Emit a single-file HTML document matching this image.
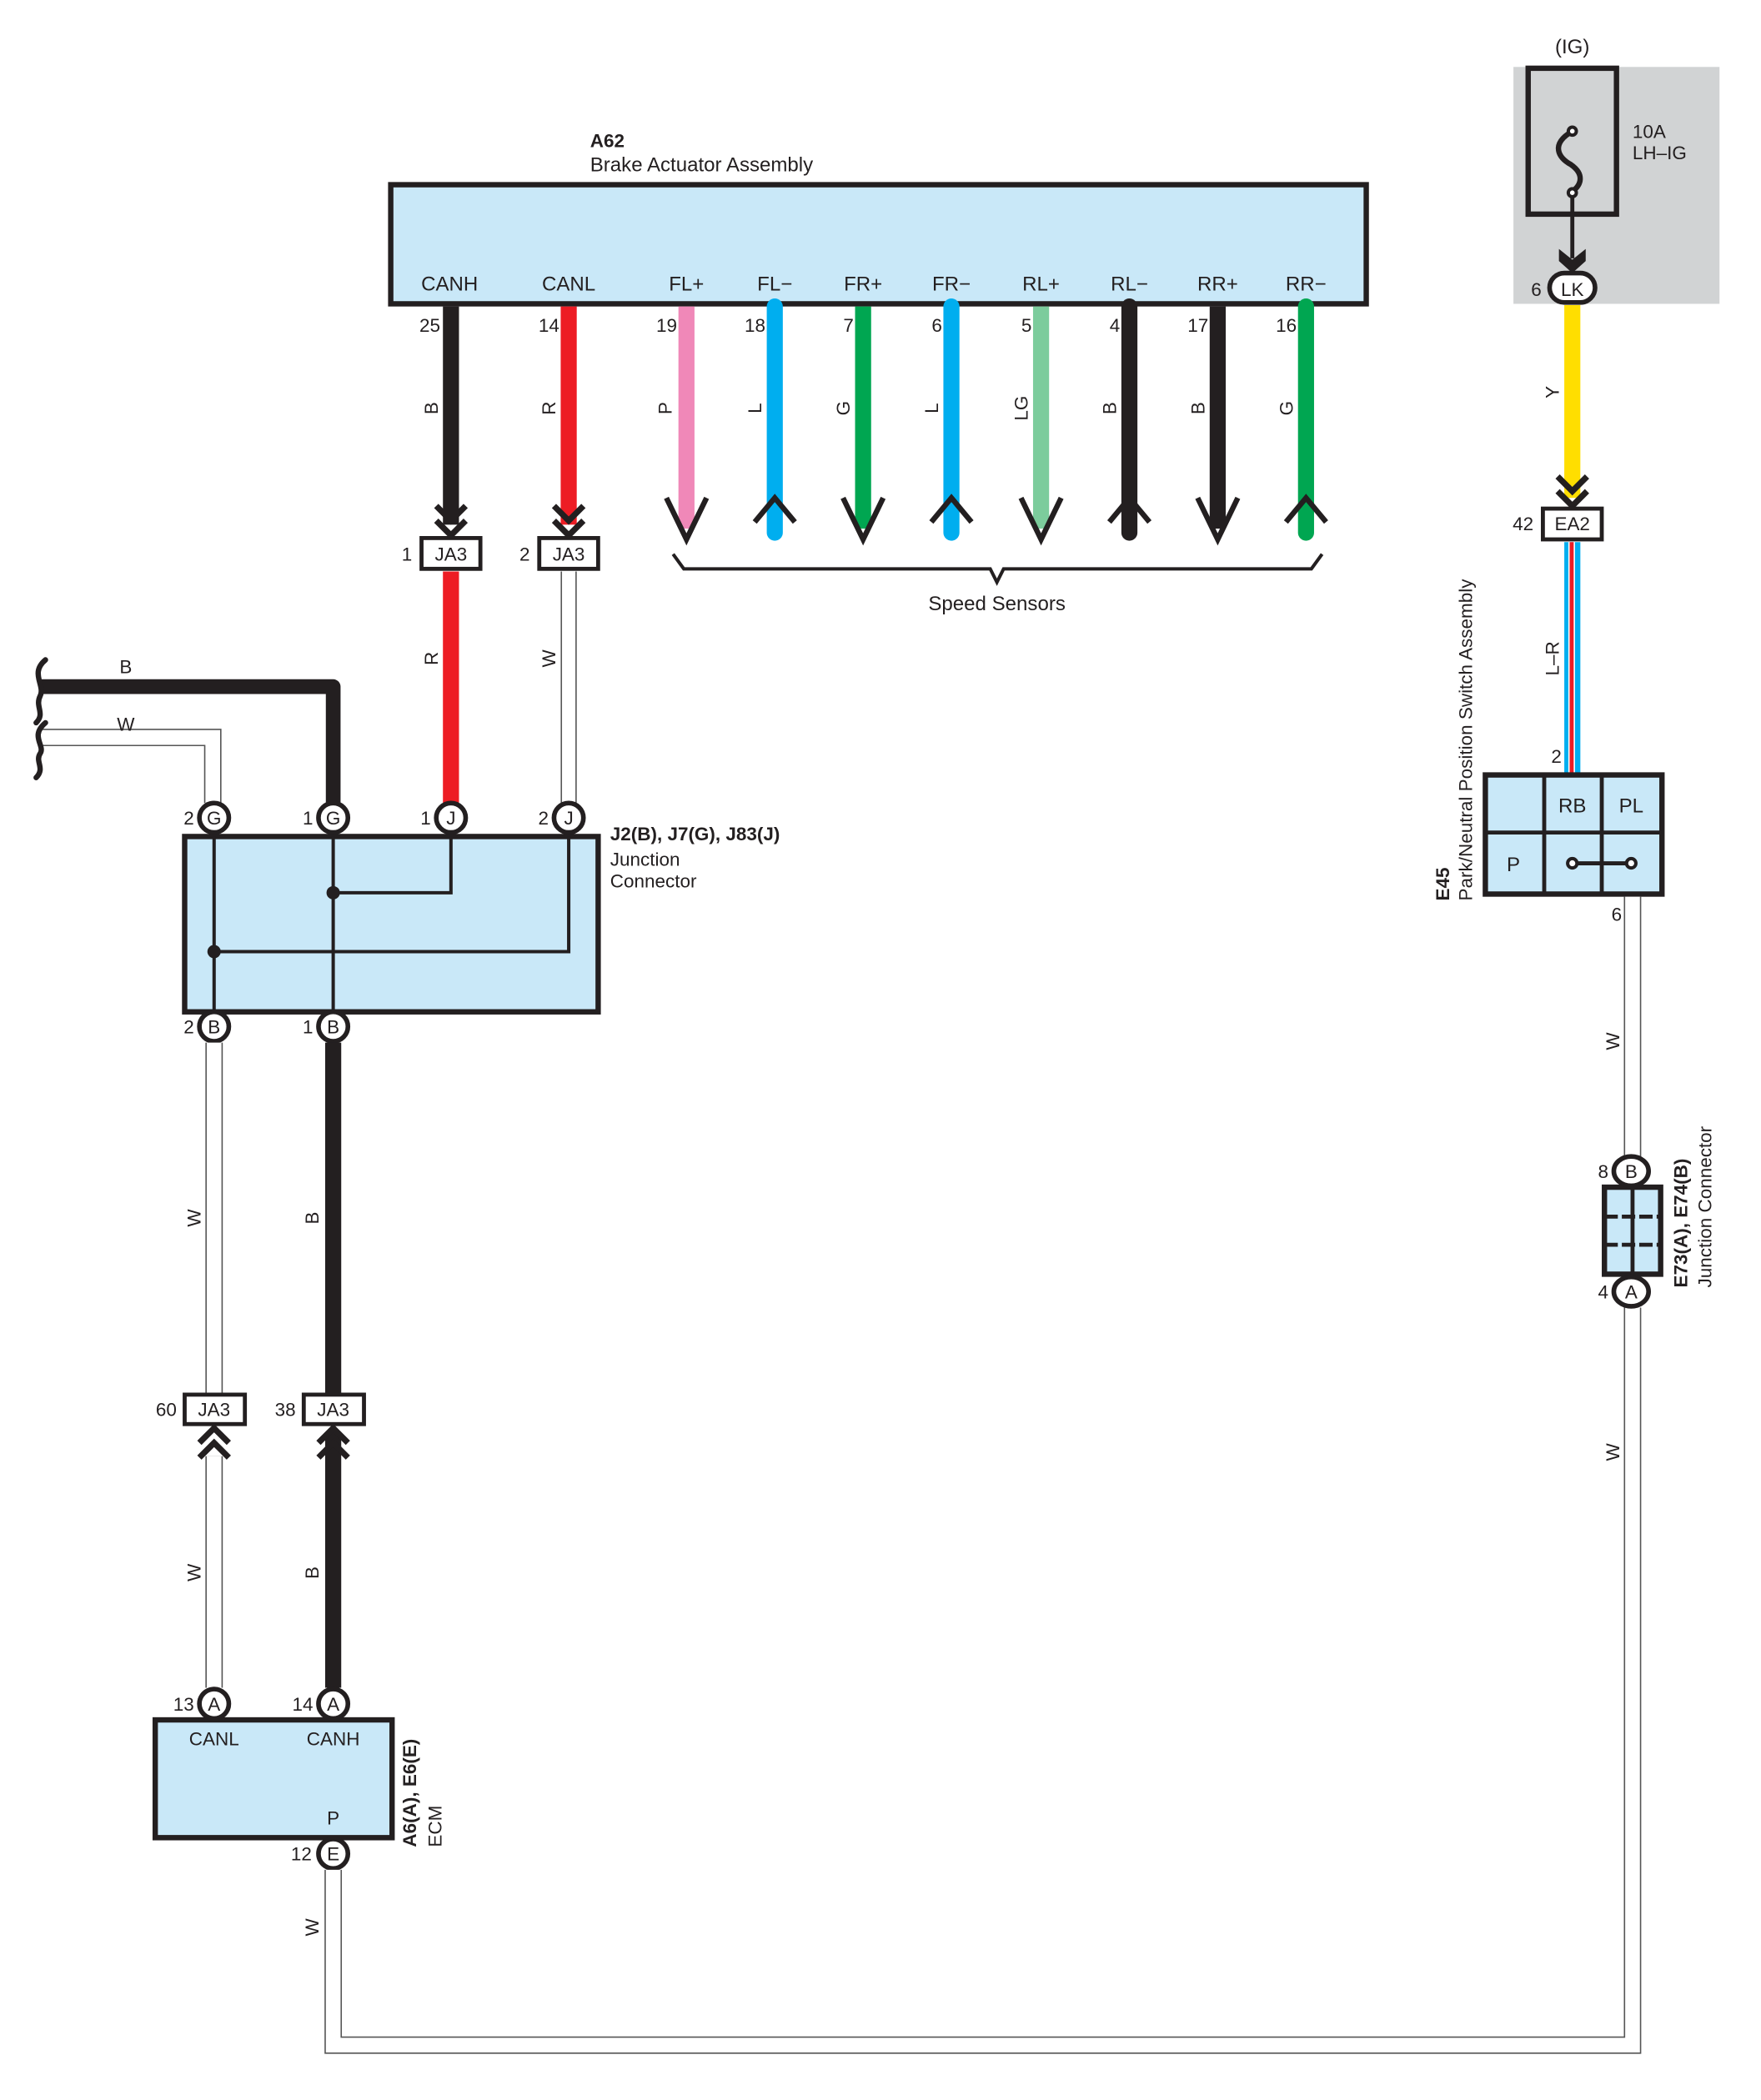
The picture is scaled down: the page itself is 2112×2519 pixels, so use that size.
<!DOCTYPE html>
<html><head><meta charset="utf-8"><style>
html,body{margin:0;padding:0;background:#fff}
svg{display:block}
text{font-family:"Liberation Sans",sans-serif;fill:#231f20}
</style></head><body>
<svg width="2112" height="2519" viewBox="0 0 1316 1569" preserveAspectRatio="none" xmlns="http://www.w3.org/2000/svg">
<defs>
<g id="chevD"><polyline points="-11,-24 0,-13 11,-24" fill="none" stroke="#231f20" stroke-width="4.5"/><polyline points="-11,-13 0,-2 11,-13" fill="none" stroke="#231f20" stroke-width="4.5"/></g>
<g id="chevU"><polyline points="-11,24 0,13 11,24" fill="none" stroke="#231f20" stroke-width="4.5"/><polyline points="-11,13 0,2 11,13" fill="none" stroke="#231f20" stroke-width="4.5"/></g>
</defs>
<g font-size="15">
<text x="441" y="110" font-weight="bold" font-size="14">A62</text>
<text x="441" y="128">Brake Actuator Assembly</text>
<rect x="292" y="138" width="729" height="89" fill="#c9e8f8" stroke="#231f20" stroke-width="4"/>
<g text-anchor="middle">
<text x="336" y="217">CANH</text><text x="425" y="217">CANL</text><text x="513" y="217">FL+</text><text x="579" y="217">FL−</text><text x="645" y="217">FR+</text><text x="711" y="217">FR−</text><text x="778" y="217">RL+</text><text x="844" y="217">RL−</text><text x="910" y="217">RR+</text><text x="976" y="217">RR−</text>
</g>
<g text-anchor="end" font-size="14">
<text x="329" y="248">25</text><text x="418" y="248">14</text><text x="506" y="248">19</text><text x="572" y="248">18</text><text x="638" y="248">7</text><text x="704" y="248">6</text><text x="771" y="248">5</text><text x="837" y="248">4</text><text x="903" y="248">17</text><text x="969" y="248">16</text>
</g>
<line x1="337" y1="229" x2="337" y2="392" stroke="#231f20" stroke-width="12"/>
<line x1="425" y1="229" x2="425" y2="392" stroke="#ed1c24" stroke-width="12"/>
<use href="#chevD" x="337" y="402"/><use href="#chevD" x="425" y="402"/>
<line x1="513" y1="229" x2="513" y2="395" stroke="#f088b8" stroke-width="12"/>
<line x1="579" y1="229" x2="579" y2="398" stroke="#00aeef" stroke-width="12" stroke-linecap="round"/>
<line x1="645" y1="229" x2="645" y2="395" stroke="#00a651" stroke-width="12"/>
<line x1="711" y1="229" x2="711" y2="398" stroke="#00aeef" stroke-width="12" stroke-linecap="round"/>
<line x1="778" y1="229" x2="778" y2="395" stroke="#7ccc9c" stroke-width="12"/>
<line x1="844" y1="229" x2="844" y2="398" stroke="#231f20" stroke-width="12" stroke-linecap="round"/>
<line x1="910" y1="229" x2="910" y2="395" stroke="#231f20" stroke-width="12"/>
<line x1="976" y1="229" x2="976" y2="398" stroke="#00a651" stroke-width="12" stroke-linecap="round"/>
<g fill="none" stroke="#231f20" stroke-width="4">
<polyline points="498,372 513,403 528,372"/>
<polyline points="564,390 579,372 594,390"/>
<polyline points="630,372 645,403 660,372"/>
<polyline points="696,390 711,372 726,390"/>
<polyline points="763,372 778,403 793,372"/>
<polyline points="829,390 844,372 859,390"/>
<polyline points="895,372 910,403 925,372"/>
<polyline points="961,390 976,372 991,390"/>
<polyline points="503,414 511,425 740,425 745,435 750,425 980,425 988,414" stroke-width="2.5"/>
</g>
<text x="745" y="456" text-anchor="middle">Speed Sensors</text>
<g font-size="14" text-anchor="middle">
<text transform="translate(327,305) rotate(-90)">B</text>
<text transform="translate(415,305) rotate(-90)">R</text>
<text transform="translate(502,305) rotate(-90)">P</text>
<text transform="translate(569,305) rotate(-90)">L</text>
<text transform="translate(635,305) rotate(-90)">G</text>
<text transform="translate(701,305) rotate(-90)">L</text>
<text transform="translate(768,305) rotate(-90)">LG</text>
<text transform="translate(834,305) rotate(-90)">B</text>
<text transform="translate(900,305) rotate(-90)">B</text>
<text transform="translate(966,305) rotate(-90)">G</text>
</g>
<rect x="315" y="402" width="44" height="23" fill="#fff" stroke="#231f20" stroke-width="3"/>
<rect x="403" y="402" width="44" height="23" fill="#fff" stroke="#231f20" stroke-width="3"/>
<text x="337" y="419" text-anchor="middle" font-size="14">JA3</text>
<text x="425" y="419" text-anchor="middle" font-size="14">JA3</text>
<text x="308" y="419" text-anchor="end" font-size="14">1</text>
<text x="396" y="419" text-anchor="end" font-size="14">2</text>
<line x1="337" y1="427" x2="337" y2="600" stroke="#ed1c24" stroke-width="12"/>
<line x1="425" y1="427" x2="425" y2="600" stroke="#555" stroke-width="12"/>
<line x1="425" y1="427" x2="425" y2="600" stroke="#fff" stroke-width="10"/>
<text transform="translate(327,492) rotate(-90)" font-size="14" text-anchor="middle">R</text>
<text transform="translate(415,492) rotate(-90)" font-size="14" text-anchor="middle">W</text>
<path d="M30,513 H249 V600" fill="none" stroke="#231f20" stroke-width="11" stroke-linejoin="round"/>
<path d="M30,551 H159 V600" fill="none" stroke="#555" stroke-width="13"/>
<path d="M30,551 H159 V600" fill="none" stroke="#fff" stroke-width="11"/>
<g fill="none" stroke="#231f20" stroke-width="4" stroke-linecap="round">
<path d="M34,493 C22,503 34,512 30,520 C26,528 34,533 27,540"/>
<path d="M34,540 C22,550 34,557 30,563 C26,569 34,574 27,581"/>
</g>
<text x="94" y="503" text-anchor="middle" font-size="14">B</text>
<text x="94" y="546" text-anchor="middle" font-size="14">W</text>
<rect x="138" y="625" width="309" height="131" fill="#c9e8f8" stroke="#231f20" stroke-width="4"/>
<g fill="none" stroke="#231f20" stroke-width="2.5">
<line x1="160" y1="625" x2="160" y2="756"/><line x1="249" y1="625" x2="249" y2="756"/>
<polyline points="337,625 337,667 249,667"/><polyline points="425,625 425,711 160,711"/>
</g>
<circle cx="249" cy="667" r="5" fill="#231f20"/><circle cx="160" cy="711" r="5" fill="#231f20"/>
<g fill="#fff" stroke="#231f20" stroke-width="3.5">
<circle cx="160" cy="611" r="11"/><circle cx="249" cy="611" r="11"/><circle cx="337" cy="611" r="11"/><circle cx="425" cy="611" r="11"/>
<circle cx="160" cy="767" r="11"/><circle cx="249" cy="767" r="11"/>
</g>
<g text-anchor="middle" font-size="14">
<text x="160" y="616">G</text><text x="249" y="616">G</text><text x="337" y="616">J</text><text x="425" y="616">J</text>
<text x="160" y="772">B</text><text x="249" y="772">B</text>
</g>
<g text-anchor="end" font-size="14">
<text x="145" y="616">2</text><text x="234" y="616">1</text><text x="322" y="616">1</text><text x="410" y="616">2</text>
<text x="145" y="772">2</text><text x="234" y="772">1</text>
</g>
<text x="456" y="628" font-weight="bold" font-size="14">J2(B), J7(G), J83(J)</text>
<text x="456" y="647" font-size="14">Junction</text>
<text x="456" y="663" font-size="14">Connector</text>
<line x1="160" y1="779" x2="160" y2="1041" stroke="#555" stroke-width="13"/>
<line x1="160" y1="779" x2="160" y2="1041" stroke="#fff" stroke-width="11"/>
<line x1="249" y1="779" x2="249" y2="1041" stroke="#231f20" stroke-width="12"/>
<line x1="160" y1="1088" x2="160" y2="1261" stroke="#555" stroke-width="13"/>
<line x1="160" y1="1088" x2="160" y2="1261" stroke="#fff" stroke-width="11"/>
<line x1="249" y1="1070" x2="249" y2="1261" stroke="#231f20" stroke-width="12"/>
<use href="#chevU" x="160" y="1065"/><use href="#chevU" x="249" y="1065"/>
<rect x="138" y="1042" width="45" height="22" fill="#fff" stroke="#231f20" stroke-width="3"/>
<rect x="227" y="1042" width="45" height="22" fill="#fff" stroke="#231f20" stroke-width="3"/>
<g font-size="14">
<text x="160" y="1058" text-anchor="middle">JA3</text><text x="249" y="1058" text-anchor="middle">JA3</text>
<text x="132" y="1058" text-anchor="end">60</text><text x="221" y="1058" text-anchor="end">38</text>
<text transform="translate(150,910) rotate(-90)" text-anchor="middle">W</text>
<text transform="translate(238,910) rotate(-90)" text-anchor="middle">B</text>
<text transform="translate(150,1175) rotate(-90)" text-anchor="middle">W</text>
<text transform="translate(238,1175) rotate(-90)" text-anchor="middle">B</text>
</g>
<rect x="116" y="1285" width="177" height="88" fill="#c9e8f8" stroke="#231f20" stroke-width="4"/>
<g fill="#fff" stroke="#231f20" stroke-width="3.5">
<circle cx="160" cy="1273" r="11"/><circle cx="249" cy="1273" r="11"/><circle cx="249" cy="1385" r="11"/>
</g>
<g font-size="14">
<text x="160" y="1278" text-anchor="middle">A</text><text x="249" y="1278" text-anchor="middle">A</text><text x="249" y="1390" text-anchor="middle">E</text>
<text x="145" y="1278" text-anchor="end">13</text><text x="234" y="1278" text-anchor="end">14</text><text x="233" y="1390" text-anchor="end">12</text>
<text x="160" y="1304" text-anchor="middle">CANL</text><text x="249" y="1304" text-anchor="middle">CANH</text><text x="249" y="1363" text-anchor="middle">P</text>
<text transform="translate(311,1380) rotate(-90)" font-weight="bold">A6(A), E6(E)</text>
<text transform="translate(330,1380) rotate(-90)">ECM</text>
<text transform="translate(238,1440) rotate(-90)" text-anchor="middle">W</text>
</g>
<path d="M249,1397 V1528 H1220 V977" fill="none" stroke="#555" stroke-width="13"/>
<path d="M249,1397 V1528 H1220 V977" fill="none" stroke="#fff" stroke-width="11"/>
<rect x="1131" y="50" width="154" height="177" fill="#d1d3d4"/>
<rect x="1142" y="51" width="66" height="109" fill="none" stroke="#231f20" stroke-width="4"/>
<path d="M1175,98 C1158,108 1165,118 1174,123 C1184,130 1182,138 1175,143" fill="none" stroke="#231f20" stroke-width="4"/>
<circle cx="1175" cy="98" r="3" fill="#fff" stroke="#231f20" stroke-width="2.5"/>
<circle cx="1175" cy="144" r="3" fill="#fff" stroke="#231f20" stroke-width="2.5"/>
<line x1="1175" y1="147" x2="1175" y2="193" stroke="#231f20" stroke-width="3"/>
<path d="M1165,186 L1175,194 L1185,186 L1185,195 L1175,204 L1165,195 Z" fill="#231f20"/>
<rect x="1158" y="204" width="34" height="22" rx="11" fill="#fff" stroke="#231f20" stroke-width="3.5"/>
<text x="1175" y="221" text-anchor="middle" font-size="14">LK</text>
<text x="1152" y="221" text-anchor="end" font-size="14">6</text>
<text x="1175" y="40" text-anchor="middle" font-size="15">(IG)</text>
<text x="1220" y="103" font-size="14">10A</text>
<text x="1220" y="119" font-size="14">LH–IG</text>
<line x1="1175" y1="228" x2="1175" y2="372" stroke="#ffde00" stroke-width="12"/>
<use href="#chevD" x="1175" y="380"/>
<rect x="1153" y="380" width="44" height="23" fill="#fff" stroke="#231f20" stroke-width="3"/>
<text x="1175" y="396" text-anchor="middle" font-size="14">EA2</text>
<text x="1146" y="396" text-anchor="end" font-size="14">42</text>
<text transform="translate(1165,293) rotate(-90)" text-anchor="middle" font-size="14">Y</text>
<line x1="1175" y1="405" x2="1175" y2="579" stroke="#00aeef" stroke-width="12"/>
<line x1="1174.5" y1="405" x2="1174.5" y2="579" stroke="#fff" stroke-width="5"/>
<line x1="1174.5" y1="405" x2="1174.5" y2="579" stroke="#ed1c24" stroke-width="3"/>
<text transform="translate(1165,492) rotate(-90)" text-anchor="middle" font-size="14">L–R</text>
<text x="1167" y="570" text-anchor="end" font-size="14">2</text>
<rect x="1110" y="579" width="132" height="89" fill="#c9e8f8" stroke="#231f20" stroke-width="4"/>
<g stroke="#231f20" stroke-width="3">
<line x1="1154" y1="579" x2="1154" y2="668"/><line x1="1197" y1="579" x2="1197" y2="668"/><line x1="1110" y1="622" x2="1242" y2="622"/>
<line x1="1175" y1="645" x2="1219" y2="645"/>
</g>
<circle cx="1175" cy="645" r="3.5" fill="#fff" stroke="#231f20" stroke-width="2.5"/>
<circle cx="1219" cy="645" r="3.5" fill="#fff" stroke="#231f20" stroke-width="2.5"/>
<g font-size="15" text-anchor="middle"><text x="1175" y="607">RB</text><text x="1219" y="607">PL</text><text x="1131" y="651">P</text></g>
<text transform="translate(1083,673) rotate(-90)" font-weight="bold" font-size="14">E45</text>
<text transform="translate(1100,673) rotate(-90)" font-size="14">Park/Neutral Position Switch Assembly</text>
<line x1="1220" y1="670" x2="1220" y2="864" stroke="#555" stroke-width="13"/>
<line x1="1220" y1="670" x2="1220" y2="864" stroke="#fff" stroke-width="11"/>
<text x="1212" y="688" text-anchor="end" font-size="14">6</text>
<text transform="translate(1210,778) rotate(-90)" text-anchor="middle" font-size="14">W</text>
<text transform="translate(1210,1085) rotate(-90)" text-anchor="middle" font-size="14">W</text>
<rect x="1199" y="887" width="42" height="65" fill="#c9e8f8" stroke="#231f20" stroke-width="4"/>
<g stroke="#231f20" stroke-width="3"><line x1="1220" y1="887" x2="1220" y2="952"/><line x1="1199" y1="909" x2="1241" y2="909" stroke-dasharray="10,3"/><line x1="1199" y1="930" x2="1241" y2="930" stroke-dasharray="10,3"/></g>
<g fill="#fff" stroke="#231f20" stroke-width="3.5"><ellipse cx="1219" cy="875" rx="13" ry="11"/><ellipse cx="1219" cy="965" rx="13" ry="11"/></g>
<g font-size="14"><text x="1219" y="880" text-anchor="middle">B</text><text x="1219" y="970" text-anchor="middle">A</text>
<text x="1202" y="880" text-anchor="end">8</text><text x="1202" y="970" text-anchor="end">4</text>
<text transform="translate(1261,962) rotate(-90)" font-weight="bold">E73(A), E74(B)</text>
<text transform="translate(1279,962) rotate(-90)">Junction Connector</text></g>
</g>
</svg>
</body></html>
